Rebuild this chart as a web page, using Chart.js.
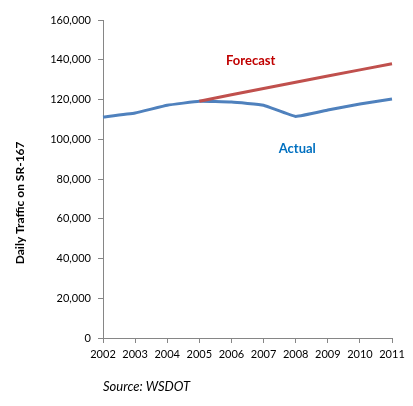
<!DOCTYPE html>
<html>
<head>
<meta charset="utf-8">
<script src="https://cdn.jsdelivr.net/npm/chart.js@4/dist/chart.umd.min.js"></script>
<style>
  html, body { margin: 0; padding: 0; background: #fff; }
  #wrap { width: 413px; height: 406px; }
</style>
</head>
<body>
<div id="wrap"><canvas id="myChart" width="413" height="406"></canvas></div>
<script>
"use strict";
// chart values
const years = ['2002', '2003', '2004', '2005', '2006', '2007', '2008', '2009', '2010', '2011'];
const actualTraffic = [111200, 113200, 117100, 119100, 118700, 117100, 111500, 114700, 117700, 120200];
const forecastTraffic = [null, null, null, 119100, 122400, 125500, 128700, 131800, 134900, 138000];
const yTicks = [0, 20000, 40000, 60000, 80000, 100000, 120000, 140000, 160000];

// series labels placed inside the plot (category index, value)
const seriesLabels = [
    { text: 'Forecast', at: [4.6, 139500], color: '#C00000' },
    { text: 'Actual', at: [6.05, 95000], color: '#0070C0' }
];
const yTitle = 'Daily Traffic on SR-167';

const fontFamily = 'Lato, "Open Sans", sans-serif';
const axisGray = '#868686';

const labelPlugin = {
    id: 'seriesLabels',
    afterDatasetsDraw(chart) {
        const ctx = chart.ctx;
        const xs = chart.scales.x;
        const ys = chart.scales.y;
        ctx.save();
        ctx.font = 'bold 13px ' + fontFamily;
        ctx.textAlign = 'center';
        ctx.textBaseline = 'middle';
        seriesLabels.forEach(l => {
            ctx.fillStyle = l.color;
            ctx.fillText(l.text, xs.getPixelForValue(l.at[0]), ys.getPixelForValue(l.at[1]));
        });
        // y axis title, sits a bit below the axis middle like the original
        ctx.translate(20, ys.getPixelForValue(68000));
        ctx.rotate(-Math.PI / 2);
        ctx.fillStyle = '#000';
        ctx.font = 'bold 12px ' + fontFamily;
        ctx.fillText(yTitle, 0, 0);
        ctx.restore();
    }
};

document.addEventListener('DOMContentLoaded', () => {
    const canvas = document.getElementById('myChart');
    if (!canvas) {
        console.error('Canvas element not found');
        return;
    }
    const ctx = canvas.getContext('2d');

    new Chart(ctx, {
        type: 'line',
        data: {
            labels: years,
            datasets: [{
                label: 'Forecast',
                data: forecastTraffic,
                borderColor: '#C0504D',
                borderWidth: 3,
                pointRadius: 0,
                tension: 0,
                fill: false
            }, {
                label: 'Actual',
                data: actualTraffic,
                borderColor: '#4F81BD',
                borderWidth: 3,
                pointRadius: 0,
                tension: 0.1,
                fill: false
            }]
        },
        options: {
            responsive: false,
            animation: false,
            layout: { padding: { top: 20, right: 21, bottom: 7, left: 0 } },
            plugins: {
                legend: { display: false },
                tooltip: { enabled: false }
            },
            scales: {
                x: {
                    offset: false,
                    grid: {
                        display: true,
                        drawOnChartArea: false,
                        drawTicks: true,
                        tickLength: 5,
                        color: axisGray
                    },
                    border: { color: axisGray, width: 1 },
                    ticks: {
                        color: '#000',
                        font: { family: fontFamily, size: 11 },
                        padding: 5,
                        maxRotation: 0,
                        autoSkip: false
                    },
                    title: {
                        display: true,
                        text: 'Source: WSDOT',
                        align: 'start',
                        color: '#000',
                        font: { family: fontFamily, size: 13, style: 'italic' },
                        padding: { top: 3 }
                    },
                    afterFit(axis) { axis.height = 61; }
                },
                y: {
                    min: 0,
                    max: 160000,
                    afterBuildTicks(axis) { axis.ticks = yTicks.map(v => ({ value: v })); },
                    grid: {
                        display: true,
                        drawOnChartArea: false,
                        drawTicks: true,
                        tickLength: 5,
                        color: axisGray
                    },
                    border: { color: axisGray, width: 1 },
                    ticks: {
                        color: '#000',
                        font: { family: fontFamily, size: 11 },
                        padding: 7,
                        callback: v => v.toLocaleString('en-US')
                    },
                    afterFit(axis) { axis.width = 103; }
                }
            }
        },
        plugins: [labelPlugin]
    });
});
</script>
</body>
</html>
